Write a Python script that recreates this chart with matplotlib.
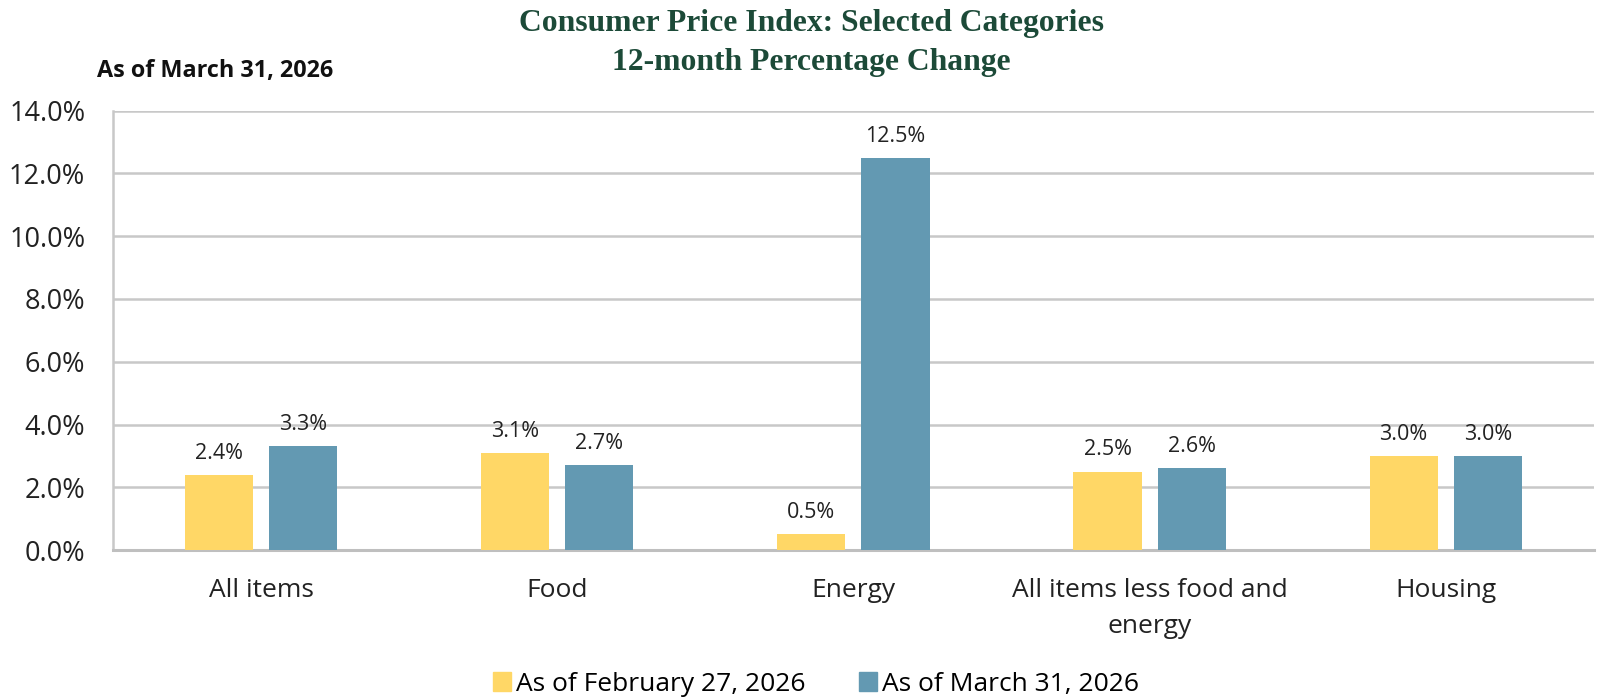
import matplotlib
matplotlib.use("Agg")
import matplotlib.pyplot as plt
import numpy as np
from matplotlib.patches import Patch

categories = ["All items", "Food", "Energy", "All items less food and\nenergy", "Housing"]
feb_values = [2.4, 3.1, 0.5, 2.5, 3.0]
mar_values = [3.3, 2.7, 12.5, 2.6, 3.0]
series_names = ["As of February 27, 2026", "As of March 31, 2026"]
yticks = [0, 2, 4, 6, 8, 10, 12, 14]

YELLOW = "#FFD766"
BLUE = "#6399B2"
GRID = "#C8C8C8"
TITLE_C = "#1C4A38"

plt.rcParams['font.family'] = ['Open Sans', 'DejaVu Sans']

fig = plt.figure(figsize=(15.97, 6.98), dpi=100)
ax = fig.add_axes([0.0708, 0.212, 0.9272, 0.6294])

x = np.arange(len(categories))
off = 0.142
w = 0.23
b1 = ax.bar(x - off, feb_values, w, color=YELLOW, zorder=3)
b2 = ax.bar(x + off, mar_values, w, color=BLUE, zorder=3)

for bars, vals in ((b1, feb_values), (b2, mar_values)):
    for rect, v in zip(bars, vals):
        ax.annotate(f"{v:.1f}%", (rect.get_x() + rect.get_width() / 2, v),
                    xytext=(0, 8), textcoords="offset points",
                    ha="center", va="bottom", fontsize=15.5, color="#222222", zorder=4)

ax.set_xlim(-0.5, len(categories) - 0.5)
ax.set_ylim(0, 14)
ax.set_yticks(yticks)
ax.set_yticklabels([f"{t:.1f}%" for t in yticks], fontsize=19.5, color="#222222")
ax.set_xticks(x)
ax.set_xticklabels(categories, fontsize=19, color="#222222", linespacing=1.6)
ax.tick_params(axis="both", length=0)
ax.tick_params(axis="y", pad=20)
ax.tick_params(axis="x", pad=20)
ax.yaxis.grid(True, color=GRID, linewidth=1.8, zorder=0)
ax.set_axisbelow(True)
for s in ["top", "right"]:
    ax.spines[s].set_visible(False)
ax.spines["left"].set_color(GRID)
ax.spines["left"].set_linewidth(1.8)
ax.spines["bottom"].set_color("#BFBFBF")
ax.spines["bottom"].set_linewidth(2.2)

fig.text(0.508, 0.987, "Consumer Price Index: Selected Categories\n12-month Percentage Change",
         ha="center", va="top", fontsize=22.8, fontweight="bold", color=TITLE_C,
         family=["Liberation Serif", "DejaVu Serif"], linespacing=1.45)
fig.text(0.061, 0.898, "As of March 31, 2026", ha="left", va="center",
         fontsize=16.8, fontweight="bold", color="#111111")

handles = [Patch(color=YELLOW), Patch(color=BLUE)]
fig.legend(handles, series_names, loc="center", bbox_to_anchor=(0.511, 0.02),
           ncol=2, frameon=False, fontsize=19, handlelength=0.7, handleheight=0.7,
           handletextpad=0.2, columnspacing=2.0)

fig.savefig("out.png", dpi=100)
